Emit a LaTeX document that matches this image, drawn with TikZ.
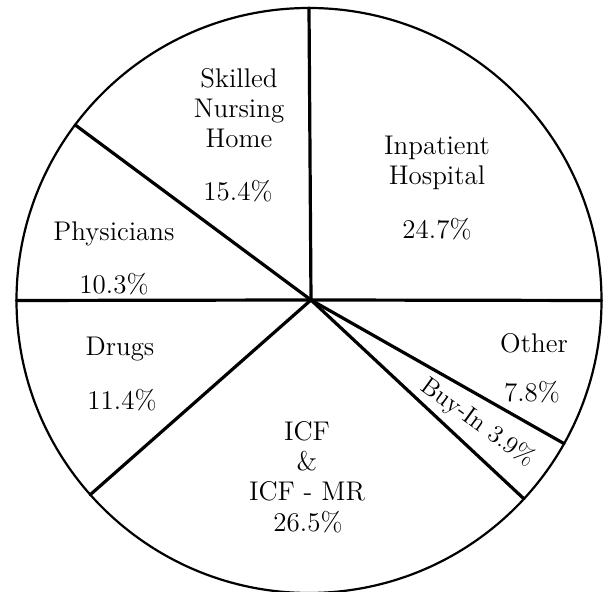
\documentclass[tikz,border=0pt]{standalone}
\usepackage{tikz}
\usetikzlibrary{calc}

\begin{document}
\begin{tikzpicture}[x=0.5pt,y=0.5pt,
    spoke/.style={line width=1.6pt, line cap=round},
    lbl/.style={font=\fontsize{13.5}{15}\selectfont, align=center, text=black, inner sep=0pt}]
  \useasboundingbox (0,0) rectangle (610,592);
  % rim and centre
  \coordinate (o) at (309,291.5);
  \coordinate (ctr) at (311,292);
  \draw[line width=1.1pt] (o) circle (292.5);
  % slice borders
  \foreach \ang/\nm in {90/top, 0/right, -29.3/othbuy, -42.7/buyicf, -138.4/icfdrg, 180/left, 143.1/physkl}
    \coordinate (\nm) at ($(o)+(\ang:292.5)$);
  \draw[spoke] (ctr) -- (top);
  \draw[spoke] (ctr) -- (right);
  \draw[spoke] (ctr) -- (othbuy);
  \draw[spoke] (ctr) -- (buyicf);
  \draw[spoke] (ctr) -- (icfdrg);
  \draw[spoke] (ctr) -- (left);
  \draw[spoke] (ctr) -- (physkl);
  % labels
  \node[lbl] (skilled) at (239,484) {Skilled\\Nursing\\Home};
  \node[lbl] (skilledpc) at (238,401) {15.4\%};
  \node[lbl] (inpat) at (437,429) {Inpatient\\Hospital};
  \node[lbl] (inpatpc) at (437,363) {24.7\%};
  \node[lbl] (phys) at (114,358) {Physicians};
  \node[lbl] (physpc) at (114,308) {10.3\%};
  \node[lbl] (drugs) at (120,243) {Drugs};
  \node[lbl] (drugspc) at (122,192) {11.4\%};
  \node[lbl] (other) at (534,249) {Other};
  \node[lbl] (otherpc) at (532,200) {7.8\%};
  \node[lbl] (icf) at (307,131) {ICF\\\&\\ICF - MR};
  \node[lbl] (icfpc) at (308,70) {26.5\%};
  \node[lbl, font=\fontsize{12.5}{14}\selectfont, rotate=-36] (buyin) at (478,169) {Buy-In 3.9\%};
\end{tikzpicture}
\end{document}
